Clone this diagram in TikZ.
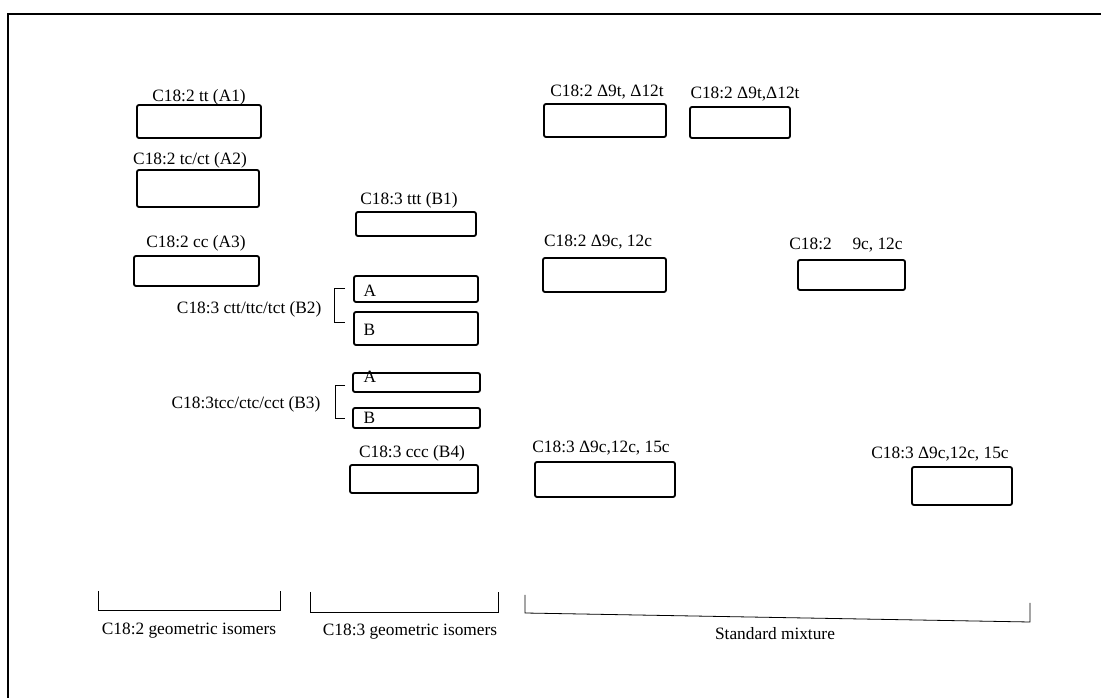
\documentclass[tikz,border=0pt]{standalone}
\usepackage{fontspec}
\setmainfont{Liberation Serif}
\tikzset{
  sample/.style={draw,line width=1.4pt,rounded corners=1.5pt,inner sep=0pt},
  tag/.style={font=\fontsize{13}{15}\selectfont,inner sep=1pt},
  brace/.style={line width=0.6pt},
}
\begin{document}
\begin{tikzpicture}[x=0.75pt,y=-0.75pt]
  \useasboundingbox (0,0) rectangle (1101,698);
  \draw[line width=1.5pt] (1101,14) -- (8,14) -- (8,698);

  % C18:2 geometric isomers
  \node[sample,minimum width=93pt,minimum height=24.75pt]   (a1) at (199,121.5) {};
  \node[sample,minimum width=91.5pt,minimum height=27.75pt] (a2) at (198,188.5) {};
  \node[sample,minimum width=93.75pt,minimum height=22.5pt] (a3) at (196.5,271) {};
  \node[tag] (a1-t) at (199,97)  {C18:2 tt (A1)};
  \node[tag] (a2-t) at (190,160) {C18:2 tc/ct (A2)};
  \node[tag] (a3-t) at (196,243) {C18:2 cc (A3)};

  % C18:3 geometric isomers
  \node[sample,minimum width=90pt,minimum height=18pt]       (b1)  at (416,224)   {};
  \node[sample,minimum width=93pt,minimum height=19.5pt]     (b2a) at (416,289)   {};
  \node[sample,minimum width=93pt,minimum height=24.75pt]    (b2b) at (416,328.5) {};
  \node[sample,minimum width=95.25pt,minimum height=14.25pt] (b3a) at (416.5,382.5) {};
  \node[sample,minimum width=95.25pt,minimum height=15pt]    (b3b) at (416.5,418) {};
  \node[sample,minimum width=96pt,minimum height=21pt]       (b4)  at (414,479)   {};
  \node[tag] (b1-t) at (409,200) {C18:3 ttt (B1)};
  \node[tag] (b4-t) at (412,453) {C18:3 ccc (B4)};
  \node[tag,anchor=west] (b2a-l) at (362,291) {A};
  \node[tag,anchor=west] (b2b-l) at (362,330) {B};
  \node[tag,anchor=west] (b3a-l) at (362,377) {A};
  \node[tag,anchor=west] (b3b-l) at (362,418) {B};
  \node[tag,anchor=east] (b2-t) at (323,309) {C18:3 ctt/ttc/tct (B2)};
  \node[tag,anchor=east] (b3-t) at (322,404) {C18:3tcc/ctc/cct (B3)};
  \draw[brace] (345,288) -- (334,288) -- (334,322) -- (345,322);
  \draw[brace] (345,385) -- (335,385) -- (335,418) -- (345,418);

  % standard mixture
  \node[sample,minimum width=91.5pt,minimum height=24.75pt] (m1) at (605,120.5) {};
  \node[sample,minimum width=75pt,minimum height=23.25pt]   (m2) at (740,122.5) {};
  \node[sample,minimum width=92.25pt,minimum height=25.5pt] (m3) at (604.5,275) {};
  \node[sample,minimum width=80.25pt,minimum height=22.5pt] (m4) at (851.5,275) {};
  \node[sample,minimum width=105pt,minimum height=26.25pt]  (m5) at (605,479.5) {};
  \node[sample,minimum width=75pt,minimum height=28.5pt]    (m6) at (962,486)   {};
  \node[tag] (m1-t) at (607,92)  {C18:2 Δ9t, Δ12t};
  \node[tag] (m2-t) at (745,94)  {C18:2 Δ9t,Δ12t};
  \node[tag] (m3-t) at (598,242) {C18:2 Δ9c, 12c};
  \node[tag] (m4-t) at (846,245) {C18:2\hspace{1.2em}9c, 12c};
  \node[tag] (m5-t) at (601,448) {C18:3 Δ9c,12c, 15c};
  \node[tag] (m6-t) at (940,454) {C18:3 Δ9c,12c, 15c};

  % groups
  \draw[brace] (98,591) -- (98,610) -- (280,610) -- (280,591);
  \draw[brace] (310,592) -- (310,612) -- (498,612) -- (498,592);
  \draw[brace] (525,595) -- (525,613) -- (1030,622) -- (1030,603);
  \node[tag] (g1) at (189,631) {C18:2 geometric isomers};
  \node[tag] (g2) at (410,632) {C18:3 geometric isomers};
  \node[tag] (g3) at (775,634) {Standard mixture};
\end{tikzpicture}
\end{document}
